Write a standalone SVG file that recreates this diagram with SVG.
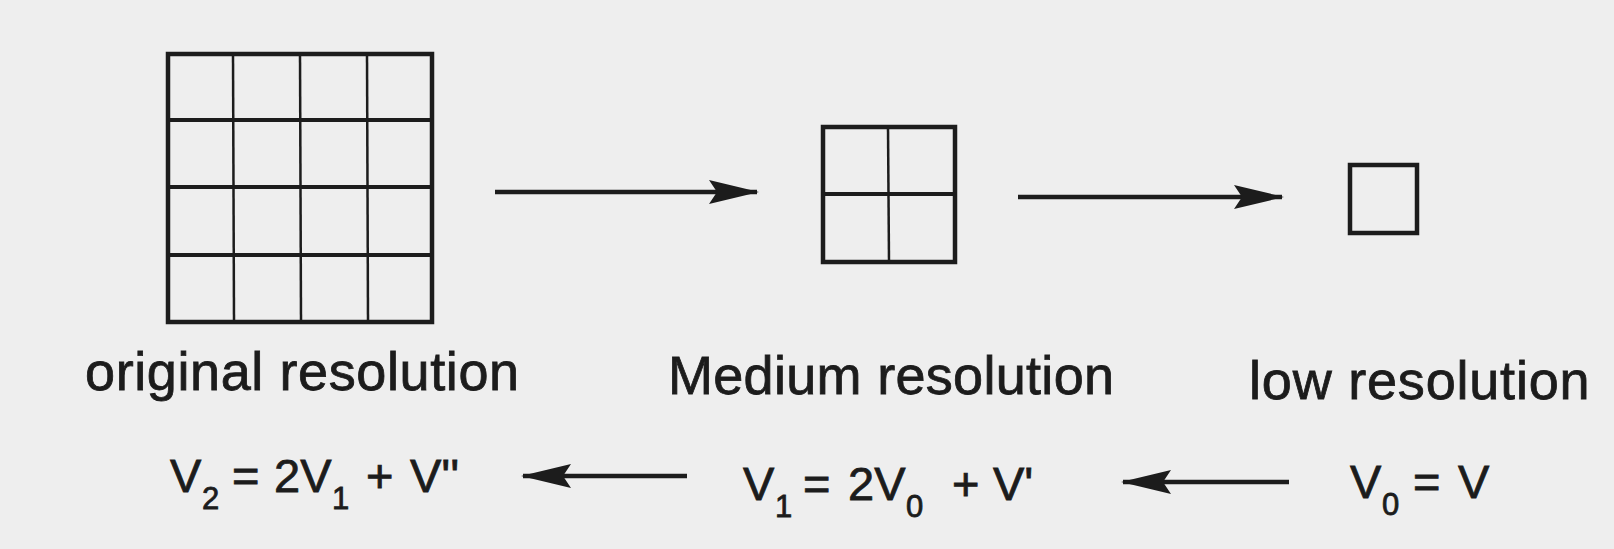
<svg xmlns="http://www.w3.org/2000/svg" width="1614" height="549" viewBox="0 0 1614 549">
<style>
.bg{fill:#eeeeee}
.frame{fill:none;stroke:#1c1c1c;stroke-width:4.5}
.thick{stroke:#1c1c1c;stroke-width:4}
.thin{stroke:#1c1c1c;stroke-width:2.5}
.conn{stroke:#1c1c1c;stroke-width:4.5;fill:none}
.lbl{font-family:"Liberation Sans",Arial,sans-serif;font-size:54px;fill:#1c1c1c;stroke:#1c1c1c;stroke-width:0.8;letter-spacing:0.8px}
.eq{font-family:"Liberation Sans",Arial,sans-serif;font-size:47px;fill:#1c1c1c;stroke:#1c1c1c;stroke-width:0.8}
.sub{font-size:31px}
</style>
<defs>
<marker id="ah" viewBox="0 0 50 24" refX="48" refY="12" markerWidth="50" markerHeight="24" markerUnits="userSpaceOnUse" orient="auto">
<path d="M0,0 L50,12 L0,24 L8,12 Z" fill="#1c1c1c"/>
</marker>
</defs>
<rect class="bg" x="0" y="0" width="1614" height="549"/>
<g id="original">
<rect class="frame" x="168" y="54" width="264" height="268"/>
<line class="thick" x1="168" y1="120" x2="432" y2="120"/>
<line class="thick" x1="168" y1="187" x2="432" y2="187"/>
<line class="thick" x1="168" y1="255" x2="432" y2="255"/>
<line class="thin" x1="233" y1="54" x2="234" y2="322"/>
<line class="thin" x1="300" y1="54" x2="301" y2="322"/>
<line class="thin" x1="367" y1="54" x2="368" y2="322"/>
<text class="lbl" x="85" y="390" style="letter-spacing:0.6px">original resolution</text>
</g>
<g id="medium">
<rect class="frame" x="823" y="127" width="132" height="135"/>
<line class="thick" x1="823" y1="194" x2="955" y2="194"/>
<line class="thin" x1="888" y1="127" x2="889" y2="262"/>
<text class="lbl" x="668" y="394" style="letter-spacing:0.3px">Medium resolution</text>
</g>
<g id="low">
<rect class="frame" x="1350" y="165" width="67" height="68"/>
<text class="lbl" x="1249" y="399">low resolution</text>
</g>
<g id="eq2">
<text class="eq" y="492"><tspan x="170">V</tspan><tspan class="sub" x="202" dy="17">2</tspan><tspan x="232" dy="-17">=</tspan><tspan x="274">2V</tspan><tspan class="sub" x="332" dy="17">1</tspan><tspan x="366" dy="-17">+</tspan><tspan x="410">V''</tspan></text>
</g>
<g id="eq1">
<text class="eq" y="500"><tspan x="743">V</tspan><tspan class="sub" x="775" dy="17">1</tspan><tspan x="803" dy="-17">=</tspan><tspan x="848">2V</tspan><tspan class="sub" x="906" dy="17">0</tspan><tspan x="952" dy="-17">+</tspan><tspan x="993">V'</tspan></text>
</g>
<g id="eq0">
<text class="eq" y="498"><tspan x="1350">V</tspan><tspan class="sub" x="1382" dy="17">0</tspan><tspan x="1413" dy="-17">=</tspan><tspan x="1458">V</tspan></text>
</g>
<g id="connectors">
<line class="conn" x1="495" y1="192" x2="757" y2="192" marker-end="url(#ah)"/>
<line class="conn" x1="1018" y1="197" x2="1282" y2="197" marker-end="url(#ah)"/>
<line class="conn" x1="687" y1="476" x2="523" y2="476" marker-end="url(#ah)"/>
<line class="conn" x1="1289" y1="482" x2="1123" y2="482" marker-end="url(#ah)"/>
</g>
</svg>
